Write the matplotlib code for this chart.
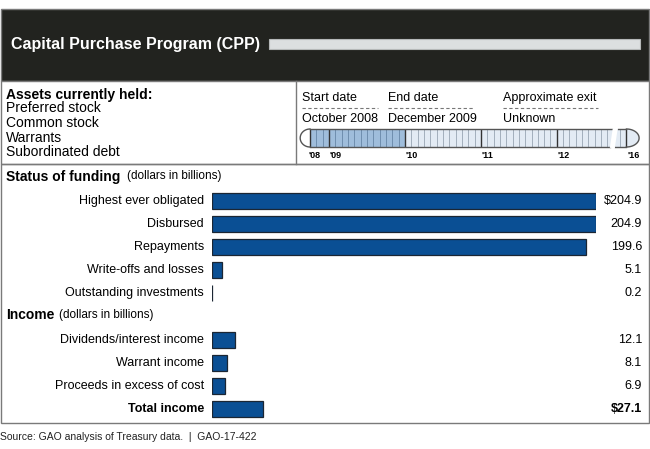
import numpy as np
import matplotlib
matplotlib.use("Agg")
import matplotlib.pyplot as plt
from matplotlib.patches import Rectangle, Polygon

plt.rcParams['font.family'] = ['Liberation Sans', 'DejaVu Sans']

# --- data ---
title = "Capital Purchase Program (CPP)"
assets_heading = "Assets currently held:"
assets = ["Preferred stock", "Common stock", "Warrants", "Subordinated debt"]
date_heads = ["Start date", "End date", "Approximate exit"]
date_values = ["October 2008", "December 2009", "Unknown"]

funding_labels = ["Highest ever obligated", "Disbursed", "Repayments",
                  "Write-offs and losses", "Outstanding investments"]
funding_values = [204.9, 204.9, 199.6, 5.1, 0.2]
funding_text = ["$204.9", "204.9", "199.6", "5.1", "0.2"]

income_labels = ["Dividends/interest income", "Warrant income",
                 "Proceeds in excess of cost", "Total income"]
income_values = [12.1, 8.1, 6.9, 27.1]
income_text = ["12.1", "8.1", "6.9", "$27.1"]

# timeline in months from Jan 2008, cut after Sep 2012 and resumed at Jan 2016
start_month = 9      # Oct 2008
end_month = 24       # end of Dec 2009
cut_month = 57       # Oct 2012
resume_month = 59    # Jan 2016 drawn here
year_ticks = [12, 24, 36, 48, 59]
year_labels = ["'08", "'09", "'10", "'11", "'12", "'16"]
year_label_pos = [8.75, 12.15, 24.15, 36.15, 48.15, 59.15]

W, H = 650, 449
fig = plt.figure(figsize=(W / 100, H / 100), dpi=100)

# background / layout axes in pixel units
bg = fig.add_axes([0, 0, 1, 1])
bg.set_xlim(0, W)
bg.set_ylim(H, 0)
bg.axis('off')

edge = '#7a7a7a'
bg.add_patch(Rectangle((0.5, 8.5), 648.5, 72, fc='#22231f', ec=edge, lw=1))
bg.add_patch(Rectangle((269, 38.5), 371, 10, fc='#dcdfe0', ec='#b5b8b8', lw=0.8))
bg.text(11, 44, title, color='white', fontsize=11.5, fontweight='bold', va='center')

bg.add_patch(Rectangle((0.5, 80.5), 648.5, 83.5, fc='white', ec=edge, lw=1))
bg.plot([296, 296], [80.5, 164], color=edge, lw=1)
bg.add_patch(Rectangle((0.5, 164), 648.5, 259, fc='none', ec=edge, lw=1))

bg.text(6, 94.5, assets_heading, fontsize=10, fontweight='bold', va='center')
for i, a in enumerate(assets):
    bg.text(6, 108.5 + 14.5 * i, a, fontsize=10, va='center')

head_x = [302, 388, 503]
head_w = [76, 86, 95]
for hx, hw, h, v in zip(head_x, head_w, date_heads, date_values):
    bg.text(hx, 98, h, fontsize=9, va='center')
    bg.plot([hx, hx + hw], [107.5, 107.5], color='#777777', lw=0.8, ls=(0, (3, 2.2)))
    bg.text(hx, 119, v, fontsize=9, va='center')

# section headings
bg.text(6, 176.5, "Status of funding", fontsize=10, fontweight='bold', va='center')
bg.text(127, 176.5, "(dollars in billions)", fontsize=8.5, va='center')
bg.text(6, 315, "Income", fontsize=10, fontweight='bold', va='center')
bg.text(59, 315, "(dollars in billions)", fontsize=8.5, va='center')

funding_rows = 201 + 23 * np.arange(len(funding_values))
income_rows = 340 + 23 * np.arange(len(income_values))

for y, lab, txt in zip(funding_rows, funding_labels, funding_text):
    bg.text(204, y, lab, fontsize=9, ha='right', va='center')
    bg.text(642, y, txt, fontsize=9, ha='right', va='center')
for i, (y, lab, txt) in enumerate(zip(income_rows, income_labels, income_text)):
    wt = 'bold' if i == len(income_labels) - 1 else 'normal'
    bg.text(204, y, lab, fontsize=9, ha='right', va='center', fontweight=wt)
    bg.text(642, y, txt, fontsize=9, ha='right', va='center', fontweight=wt)

bg.text(0, 437, "Source: GAO analysis of Treasury data.  |  GAO-17-422",
        fontsize=7.5, va='center', color='#222222')

# bars
ax = fig.add_axes([212 / W, 0, 384 / W, 1])
ax.set_xlim(0, max(funding_values))
ax.set_ylim(H, 0)
ax.axis('off')
bar_kw = dict(height=16, color='#0a4f94', edgecolor='#1b2633', lw=0.9)
ax.barh(funding_rows, funding_values, **bar_kw)
ax.barh(income_rows, income_values, **bar_kw)

# timeline strip
tl = fig.add_axes([300 / W, 1 - 147 / H, 341 / W, 18 / H])
tl.set_xlim(7.42, 61.3)
tl.set_ylim(0, 1)
tl.axis('off')

light = '#e3ebf4'
dark = '#9fbddb'
line_c = '#555555'
t = np.linspace(np.pi / 2, 3 * np.pi / 2, 40)
left_cap = np.column_stack([start_month + 1.55 * np.cos(t), 0.5 + 0.5 * np.sin(t)])
t2 = np.linspace(-np.pi / 2, np.pi / 2, 40)
right_cap = np.column_stack([resume_month + 2.0 * np.cos(t2), 0.5 + 0.5 * np.sin(t2)])

tl.add_patch(Rectangle((end_month, 0), resume_month - end_month, 1, fc=light, ec='none'))
tl.add_patch(Polygon(right_cap, closed=True, fc=light, ec='none'))
tl.add_patch(Rectangle((start_month, 0), end_month - start_month, 1, fc=dark, ec='none'))
tl.add_patch(Polygon(left_cap, closed=True, fc='white', ec='none'))

for m in range(start_month + 1, resume_month):
    if m in year_ticks:
        continue
    c = '#6f8eae' if m < end_month else '#a3afbc'
    tl.plot([m, m], [0, 1], color=c, lw=0.7)
for m in year_ticks:
    tl.plot([m, m], [0, 1], color='#333333', lw=1)

# cut in the strip
tl.add_patch(Polygon([(56.37, -0.05), (57.16, -0.05), (57.63, 1.05), (56.84, 1.05)],
                     closed=True, fc='white', ec='none', zorder=5, clip_on=False))
tl.plot([start_month, 56.84], [1, 1], color=line_c, lw=1, clip_on=False, zorder=4)
tl.plot([start_month, 56.37], [0, 0], color=line_c, lw=1, clip_on=False, zorder=4)
tl.plot([57.63, resume_month], [1, 1], color=line_c, lw=1, clip_on=False, zorder=4)
tl.plot([57.16, resume_month], [0, 0], color=line_c, lw=1, clip_on=False, zorder=4)
tl.plot(left_cap[:, 0], left_cap[:, 1], color=line_c, lw=1, clip_on=False, zorder=4)
tl.plot(right_cap[:, 0], right_cap[:, 1], color=line_c, lw=1, clip_on=False, zorder=4)
tl.plot([start_month, start_month], [0, 1], color='#333333', lw=1)

for x, lab in zip(year_label_pos, year_labels):
    tl.text(x, -0.5, lab, fontsize=6.5, fontweight='bold', ha='left', va='center',
            clip_on=False)

fig.savefig("out.png", dpi=100)
